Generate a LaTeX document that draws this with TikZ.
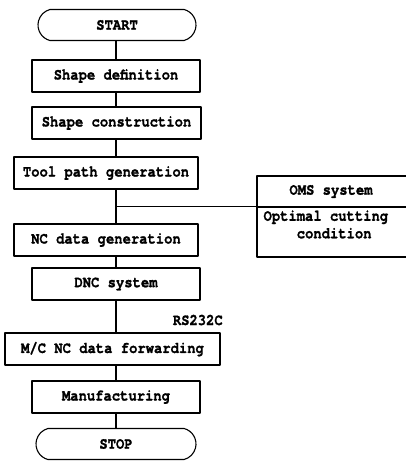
\documentclass[tikz,border=0pt]{standalone}
\usepackage{fontspec}
\setmonofont{texgyrecursor}[Extension=.otf, UprightFont=*-bold, BoldFont=*-bold, FakeStretch=0.86, FakeBold=1.2]
\usetikzlibrary{shapes.misc}
\begin{document}
\begin{tikzpicture}[x=1pt, y=-1pt, line width=1.1pt, line join=round, line cap=round,
    font=\ttfamily\fontsize{16.1}{17.5}\selectfont,
    box/.style={draw, inner sep=0pt, minimum height=32pt, minimum width=#1},
    term/.style={draw, rounded rectangle, rounded rectangle arc length=150, inner sep=0pt, minimum height=31pt, minimum width=#1}]
    \useasboundingbox (0,0) rectangle (406,471);
    \clip (0,0) rectangle (406,471);
    \coordinate (spine) at (116,0);
    \node[term=158pt] (start) at (117,25) {START};
    \node[box=168pt] (def) at (116,76) {Shape definition};
    \node[box=169pt] (cons) at (116.5,123) {Shape construction};
    \node[box=184pt] (path) at (106,173) {Tool path generation};
    \node[box=184pt] (nc) at (106,240) {NC data generation};
    \node[box=168pt] (dnc) at (116,284) {DNC system};
    \node[box=215pt] (mc) at (112.5,349) {M/C NC data forwarding};
    \node[box=168pt] (mf) at (116,397) {Manufacturing};
    \node[term=160pt] (stop) at (116,444) {STOP};
    \node[right] (rs) at (169,320) {RS232C};
    % OMS side box, open to the right
    \node[box=160pt, minimum height=31pt] (oms) at (337,191.5) {};
    \node[box=160pt, minimum height=50pt] (cond) at (337,232) {};
    \node (omst) at (331,191.5) {OMS system};
    \node[align=left, anchor=west, inner sep=0pt] (condt) at (263,226) {Optimal cutting\\\phantom{Opti}condition};
    \foreach \a/\b in {start/def, def/cons, cons/path, path/nc, nc/dnc, dnc/mc, mc/mf, mf/stop}
        \draw (\a.south -| spine) -- (\b.north -| spine);
    \coordinate (junc) at (spine |- cond.north);
    \draw (junc) -- (cond.north west);
\end{tikzpicture}
\end{document}
